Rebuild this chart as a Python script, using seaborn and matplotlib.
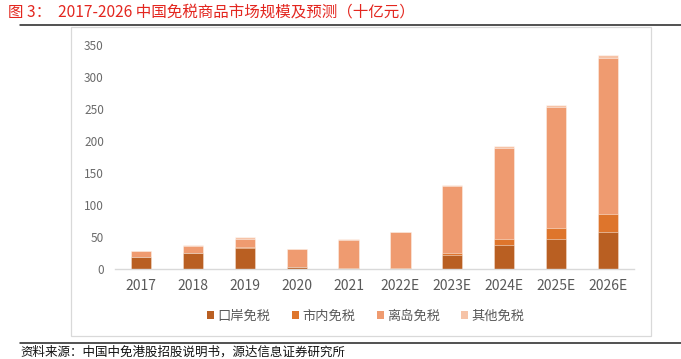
import matplotlib
matplotlib.use("Agg")
import matplotlib.pyplot as plt
import seaborn as sns
import numpy as np
import pandas as pd
from matplotlib.patches import Rectangle, Patch
from matplotlib.lines import Line2D

sns.set_theme(style="white")
plt.rcParams['font.family'] = ['Noto Sans CJK SC', 'DejaVu Sans']

years = ["2017", "2018", "2019", "2020", "2021", "2022E", "2023E", "2024E", "2025E", "2026E"]
kouan = [19.5, 25.0, 33.5, 4.0, 1.0, 1.0, 22.5, 38.0, 47.5, 58.5]
shinei = [0.5, 0.5, 0.7, 0.3, 0.5, 0.5, 2.5, 9.3, 16.5, 27.5]
lidao = [8.0, 10.5, 13.5, 27.0, 45.0, 56.5, 104.5, 142.0, 188.5, 244.0]
qita = [1.0, 2.0, 2.5, 0.5, 0.6, 0.6, 1.8, 3.0, 3.6, 3.6]
series_names = ["口岸免税", "市内免税", "离岛免税", "其他免税"]
colors = ["#B95F22", "#DE752C", "#EF9B70", "#F6C3A7"]
yticks = [0, 50, 100, 150, 200, 250, 300, 350]

W, H = 681, 359
fig = plt.figure(figsize=(W / 100, H / 100), dpi=100)

def fx(px):
    return px / W

def fy(py):
    return 1 - py / H

# outer chart box
fig.add_artist(Rectangle((fx(71), fy(336)), fx(651) - fx(71), fy(27) - fy(336),
                         transform=fig.transFigure, fill=False, edgecolor="#D9D9D9", lw=0.9))
# header / footer rules
fig.add_artist(Line2D([fx(20), 1], [fy(24.5), fy(24.5)], transform=fig.transFigure, color="#222222", lw=1.1))
fig.add_artist(Line2D([fx(20), 1], [fy(342.5), fy(342.5)], transform=fig.transFigure, color="#222222", lw=1.1))

fig.text(fx(8), fy(12.5), "图 3：  2017-2026 中国免税商品市场规模及预测（十亿元）",
         color="#E3261F", fontsize=11.2, va="center", ha="left")
fig.text(fx(20), fy(345.5), "资料来源：中国中免港股招股说明书，源达信息证券研究所",
         color="#111111", fontsize=9, va="top", ha="left")

ax = fig.add_axes([fx(115), fy(269.4), fx(634) - fx(115), fy(44.7) - fy(269.4)])

df = pd.DataFrame({"year": years, "口岸免税": kouan, "市内免税": shinei,
                   "离岛免税": lidao, "其他免税": qita})
cum = df[series_names].cumsum(axis=1)

for name, col in reversed(list(zip(series_names, colors))):
    sns.barplot(x=df["year"], y=cum[name], color=col, width=0.39, ax=ax,
                saturation=1, edgecolor=(1, 1, 1, 0.55), linewidth=0.6, order=years)

ax.set_ylim(0, 350)
ax.set_xlim(-0.5, 9.5)
ax.set_yticks(yticks)
ax.set_xlabel("")
ax.set_ylabel("")
for s in ["top", "right", "left"]:
    ax.spines[s].set_visible(False)
ax.spines["bottom"].set_color("#D9D9D9")
ax.spines["bottom"].set_linewidth(1.0)
ax.tick_params(axis="x", length=0, labelsize=10, labelcolor="#595959", pad=7)
ax.tick_params(axis="y", length=0, labelsize=8.5, labelcolor="#6a6a6a", pad=8)
ax.patch.set_alpha(0)

handles = [Patch(facecolor=c, edgecolor="none") for c in colors]
fig.legend(handles, series_names, loc="center", bbox_to_anchor=(fx(366), fy(316)),
           ncol=4, frameon=False, fontsize=9.5, handlelength=0.55, handleheight=0.55,
           handletextpad=0.25, columnspacing=1.6, labelcolor="#595959")

fig.savefig("out.png", dpi=100)
